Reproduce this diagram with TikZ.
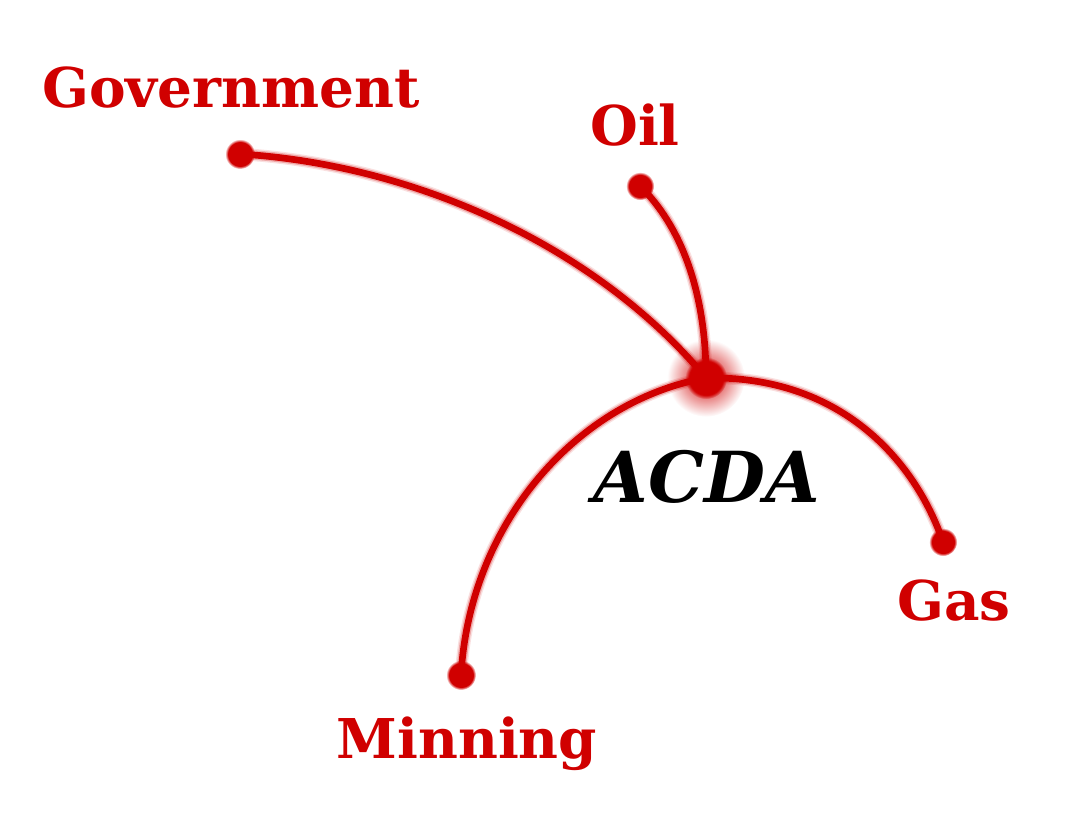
\documentclass[tikz,border=0pt]{standalone}
\usepackage{fontspec}
\setmainfont{DejaVu Serif}
\usetikzlibrary{fadings}
\definecolor{acred}{RGB}{208,0,0}
\tikzfading[name=softdot, inner color=transparent!0, outer color=transparent!100]

\begin{document}
\begin{tikzpicture}[
        x=0.01cm, y=-0.01cm,
        label/.style={anchor=base, text=acred, font=\fontsize{15.6}{18}\selectfont\bfseries},
        dot/.style={circle, fill=acred, inner sep=0pt, minimum size=#1,
            path fading=circle with fuzzy edge 20 percent},
        link/.style={draw=acred, line width=1.9pt, line cap=round,
            preaction={draw=acred, opacity=.25, line width=2.7pt, line cap=round},
            preaction={draw=acred, opacity=.12, line width=3.5pt, line cap=round}}
    ]
        \useasboundingbox (0,0) rectangle (1080,826);

        % End points
        \node[dot=8.5pt] (govdot) at (240,154) {};
        \node[dot=8pt] (oildot) at (640,186) {};
        \node[dot=8pt] (gasdot) at (943,542) {};
        \node[dot=8.5pt] (mindot) at (461,675) {};
        \coordinate (hub) at (706,378);

        % Curves
        \draw[link] (govdot.center) .. controls (420,165) and (600,250) .. (hub);
        \draw[link] (oildot.center) .. controls (680,225) and (706,290) .. (hub);
        \draw[link] (mindot.center) .. controls (470,520) and (580,400) .. (hub);
        \draw[link] (hub) .. controls (840,375) and (915,460) .. (gasdot.center);

        % Dots on top
        \foreach \p in {govdot,oildot,gasdot,mindot} {
            \fill[acred] (\p.center) circle (3pt);
        }
        \fill[acred, path fading=softdot] (hub) circle (11pt);
        \fill[acred, path fading=circle with fuzzy edge 20 percent] (hub) circle (6pt);

        % Labels
        \node[label] (gov) at (231,107) {Government};
        \node[label] (oil) at (635,145) {Oil};
        \node[label] (gas) at (954,620) {Gas};
        \node[label] (min) at (467,758) {Minning};
        \node[anchor=base, font=\fontsize{20}{24}\selectfont\bfseries\itshape] (acda) at (707,502) {ACDA};
    \end{tikzpicture}
\end{document}
